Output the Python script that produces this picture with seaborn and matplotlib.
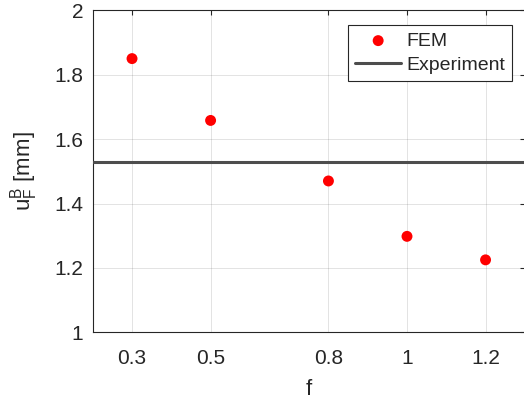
import matplotlib
matplotlib.use("Agg")
import matplotlib.pyplot as plt
import seaborn as sns
import pandas as pd

f_vals = [0.3, 0.5, 0.8, 1.0, 1.2]
fem_vals = [1.85, 1.658, 1.47, 1.298, 1.225]
experiment_val = 1.528
xticks = [0.3, 0.5, 0.8, 1.0, 1.2]
xtick_labels = ["0.3", "0.5", "0.8", "1", "1.2"]
yticks = [1.0, 1.2, 1.4, 1.6, 1.8, 2.0]
ytick_labels = ["1", "1.2", "1.4", "1.6", "1.8", "2"]

sns.set_theme(style="white")
plt.rcParams['font.family'] = ['Liberation Sans', 'DejaVu Sans']
plt.rcParams['mathtext.fontset'] = 'custom'
plt.rcParams['mathtext.rm'] = 'Liberation Sans'
plt.rcParams['mathtext.it'] = 'Liberation Sans'

df = pd.DataFrame({"f": f_vals, "u": fem_vals})

fig = plt.figure(figsize=(5.24, 4.01), dpi=100)
ax = fig.add_axes([0.177, 0.1713, 0.8246, 0.803])

ax.axhline(experiment_val, color="#4d4d4d", lw=2.2, label="Experiment", zorder=3)
sns.scatterplot(data=df, x="f", y="u", ax=ax, color="red", s=62, edgecolor="none",
                label="FEM", zorder=4)

ax.set_xlim(0.2, 1.3)
ax.set_ylim(1.0, 2.0)
ax.set_xticks(xticks)
ax.set_xticklabels(xtick_labels)
ax.set_yticks(yticks)
ax.set_yticklabels(ytick_labels)

ax.grid(True, color="#262626", alpha=0.13, lw=0.7)
for s in ax.spines.values():
    s.set_color("#262626")
    s.set_linewidth(0.8)
ax.tick_params(direction="in", length=3.5, width=0.8, color="#262626",
               labelsize=15, labelcolor="#262626", top=True, right=True)
ax.tick_params(axis="x", pad=12)
ax.tick_params(axis="y", pad=7)
ax.set_xlabel("f", fontsize=16, color="#262626", labelpad=8)
ax.set_ylabel(r"$\mathregular{u_F^B}$ [mm]", fontsize=16, color="#262626", labelpad=10)

handles, labels = ax.get_legend_handles_labels()
order = [labels.index("FEM"), labels.index("Experiment")]
leg = ax.legend([handles[i] for i in order], [labels[i] for i in order],
                loc="upper right", bbox_to_anchor=(0.9697, 0.9534), fontsize=14,
                frameon=True, fancybox=False, framealpha=1, edgecolor="#262626",
                borderpad=0.35, labelspacing=0.35, handlelength=2.37, handletextpad=0.25,
                borderaxespad=0)
leg.get_frame().set_linewidth(0.8)

fig.savefig("out.png", dpi=100)
